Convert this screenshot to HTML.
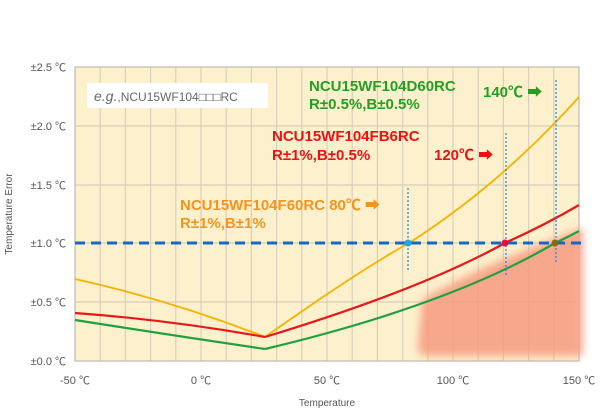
<!DOCTYPE html>
<html><head><style>body{margin:0;background:#fff;}svg{display:block;font-family:"Liberation Sans","Noto Sans CJK JP",sans-serif;}</style></head>
<body>
<svg width="600" height="411" viewBox="0 0 600 411" xmlns="http://www.w3.org/2000/svg">
<defs><filter id="bl" x="-20%" y="-20%" width="140%" height="140%"><feGaussianBlur stdDeviation="4"/></filter></defs>
<rect x="75" y="67" width="504" height="294" fill="#fdf0cc"/>
<g stroke="#d6d0bc" stroke-width="1.2">
<line x1="100.2" y1="67" x2="100.2" y2="361"/><line x1="125.4" y1="67" x2="125.4" y2="361"/><line x1="150.6" y1="67" x2="150.6" y2="361"/><line x1="175.8" y1="67" x2="175.8" y2="361"/><line x1="201" y1="67" x2="201" y2="361"/><line x1="226.2" y1="67" x2="226.2" y2="361"/><line x1="251.4" y1="67" x2="251.4" y2="361"/><line x1="276.6" y1="67" x2="276.6" y2="361"/><line x1="301.8" y1="67" x2="301.8" y2="361"/><line x1="327" y1="67" x2="327" y2="361"/><line x1="352.2" y1="67" x2="352.2" y2="361"/><line x1="377.4" y1="67" x2="377.4" y2="361"/><line x1="402.6" y1="67" x2="402.6" y2="361"/><line x1="427.8" y1="67" x2="427.8" y2="361"/><line x1="453" y1="67" x2="453" y2="361"/><line x1="478.2" y1="67" x2="478.2" y2="361"/><line x1="503.4" y1="67" x2="503.4" y2="361"/><line x1="528.6" y1="67" x2="528.6" y2="361"/><line x1="553.8" y1="67" x2="553.8" y2="361"/>
<line x1="75" y1="126" x2="579" y2="126"/><line x1="75" y1="185" x2="579" y2="185"/><line x1="75" y1="243" x2="579" y2="243"/><line x1="75" y1="302" x2="579" y2="302"/>
</g>
<rect x="75" y="67" width="504" height="294" fill="none" stroke="#bfbab0" stroke-width="1.2"/>
<path d="M422 300 Q470 270 583 228 L583 352 Q583 356 578 356 L428 356 Q418 356 418 346 Z" fill="#f79b80" opacity="0.85" filter="url(#bl)"/>
<rect x="87" y="83" width="181" height="25" fill="#fff"/>
<text x="94" y="101" font-size="14" fill="#666"><tspan font-style="italic">e.g.</tspan><tspan font-size="12">,NCU15WF104□□□RC</tspan></text>
<g fill="none" stroke-width="2.2">
<path d="M75 279 Q170 300 265 337" stroke="#f5b400" stroke-width="1.8"/>
<path d="M265 337 Q360 270 409 243 Q500 185 579 97" stroke="#f5b400" stroke-width="1.8"/>
<path d="M75 313 Q170 320 265 337" stroke="#e81818"/>
<path d="M265 337 Q420 290 505 243 Q545 225 579 205" stroke="#e81818"/>
<path d="M75 320 Q170 335 265 349" stroke="#21a040"/>
<path d="M265 349 Q450 305 555 243 Q568 237 579 231" stroke="#21a040"/>
</g>
<line x1="75" y1="243" x2="582" y2="243" stroke="#1468c8" stroke-width="3" stroke-dasharray="10,6"/>
<g stroke="#2a7fd0" stroke-width="1.2" stroke-dasharray="2,2">
<line x1="408" y1="188" x2="408" y2="272"/><line x1="506" y1="133" x2="506" y2="275"/><line x1="556" y1="80" x2="556" y2="262"/>
</g>
<circle cx="408" cy="243" r="3.5" fill="#20a8e0"/><circle cx="505" cy="243" r="3.5" fill="#e8103a"/><circle cx="555" cy="243" r="3.5" fill="#8a6a10"/>
<g font-weight="bold" font-size="15">
<text x="309" y="91" fill="#22a022">NCU15WF104D60RC</text>
<text x="309" y="109" fill="#22a022">R±0.5%,B±0.5%</text>
<text x="483" y="97" fill="#22a022">140℃ ➡</text>
<text x="272" y="141" fill="#ee1111">NCU15WF104FB6RC</text>
<text x="272" y="160" fill="#ee1111">R±1%,B±0.5%</text>
<text x="434" y="160" fill="#ee1111">120℃ ➡</text>
<text x="180" y="210" fill="#f7941d">NCU15WF104F60RC 80℃  ➡</text>
<text x="180" y="228" fill="#f7941d">R±1%,B±1%</text>
</g>
<g font-size="11" fill="#555" text-anchor="end">
<text x="66" y="71">±2.5 ℃</text><text x="66" y="130">±2.0 ℃</text><text x="66" y="189">±1.5 ℃</text><text x="66" y="247">±1.0 ℃</text><text x="66" y="306">±0.5 ℃</text><text x="66" y="365">±0.0 ℃</text>
</g>
<g font-size="11" fill="#555" text-anchor="middle">
<text x="75" y="384">-50 ℃</text><text x="201" y="384">0 ℃</text><text x="327" y="384">50 ℃</text><text x="453" y="384">100 ℃</text><text x="579" y="384">150 ℃</text>
<text x="327" y="406" font-size="10">Temperature</text>
<text transform="translate(12 214) rotate(-90)" font-size="10">Temperature Error</text>
</g>
</svg>
</body></html>
